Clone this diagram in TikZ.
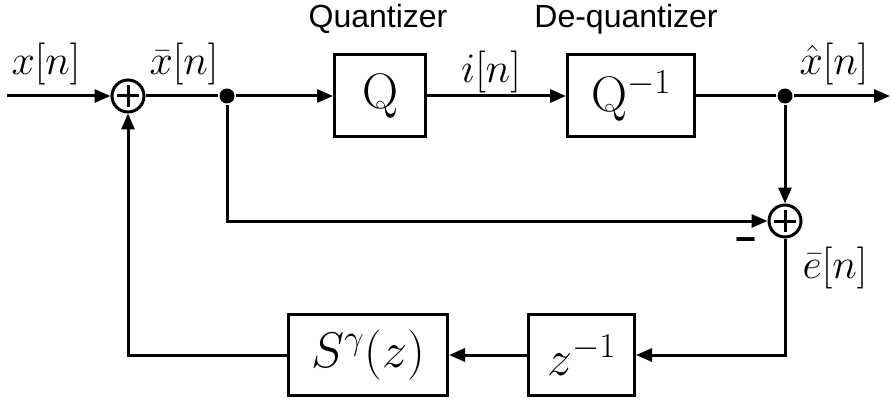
\RequirePackage{fix-cm}
\documentclass[tikz,border=0pt]{standalone}
\usepackage{fontspec}
\newfontfamily\labelfont{Liberation Sans}
\usetikzlibrary{arrows.meta}
\begin{document}
\begin{tikzpicture}[x=1pt,y=-1pt,line width=3pt,
  >={Triangle[length=16pt,width=13pt]},
  sig/.style={font=\fontsize{42}{48}\selectfont, inner sep=0pt},
  title/.style={font=\labelfont\fontsize{32}{38}\selectfont, inner sep=0pt},
  block/.style={draw, inner sep=0pt, font=\fontsize{50}{56}\selectfont},
  summer/.style={draw, circle, minimum size=32pt, inner sep=0pt,
    path picture={\draw[line width=3pt]
      ([xshift=-11pt]path picture bounding box.center) -- ([xshift=11pt]path picture bounding box.center)
      ([yshift=-11pt]path picture bounding box.center) -- ([yshift=11pt]path picture bounding box.center);}},
  junction/.style={circle, fill, inner sep=0pt, minimum size=15pt}]
\useasboundingbox (0,0) rectangle (891,401);

% blocks
\node[block, minimum width=91pt, minimum height=82pt] (q) at (380,96) {$\mathrm{Q}$};
\node[block, minimum width=127pt, minimum height=82pt] (qi) at (631,96) {$\mathrm{Q}^{-1}$};
\node[block, minimum width=159pt, minimum height=81pt] (s) at (368,355) {$S^{\gamma}(z)$};
\node[block, minimum width=106pt, minimum height=81pt] (d) at (581.5,355) {$z^{-1}$};

% summing junctions and branch points
\node[summer] (s1) at (128,96) {};
\node[summer] (s2) at (785,221) {};
\node[junction] (b1) at (227,96) {};
\node[junction] (b2) at (785,96) {};

% free ends and corners
\coordinate (in) at (7,96);
\coordinate (out) at (890,96);
\coordinate (c1) at (227,221);
\coordinate (c2) at (785,355);
\coordinate (c3) at (128,355);

% forward path
\draw[->] (in) -- (s1);
\draw (s1) -- (b1);
\draw[->] (b1) -- (q);
\draw[->] (q) -- (qi);
\draw (qi) -- (b2);
\draw[->] (b2) -- (out);

% error path
\draw[->] (b2) -- (s2);
\draw[->] (b1) -- (c1) -- (s2);

% feedback path
\draw[->] (s2) -- (c2) -- (d);
\draw[->] (d) -- (s);
\draw[->] (s) -- (c3) -- (s1);

% signal labels
\node[sig, anchor=base] (lx) at (46,75) {$x[n]$};
\node[sig, anchor=base] (lxb) at (184,75) {$\bar{x}[n]$};
\node[sig, anchor=base] (li) at (491,83) {$i[n]$};
\node[sig, anchor=base] (lxh) at (834,75) {$\hat{x}[n]$};
\node[sig, anchor=base] (le) at (835,278) {$\bar{e}[n]$};
\node[font=\labelfont\bfseries\fontsize{36}{40}\selectfont, inner sep=0pt] (minus) at (746,245) {−};

% block titles
\node[title, anchor=base] (tq) at (378,28) {Quantizer};
\node[title, anchor=base] (tqi) at (626,28) {De-quantizer};
\end{tikzpicture}
\end{document}
